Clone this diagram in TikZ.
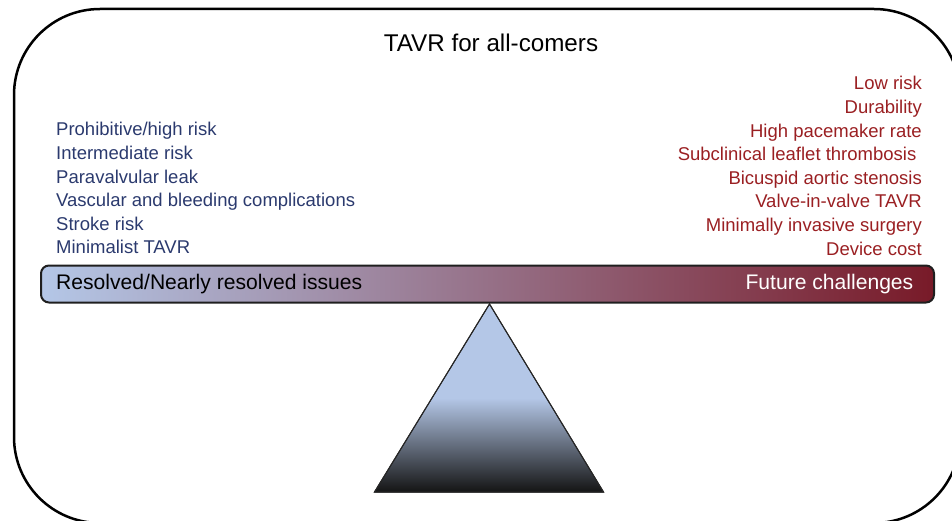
\documentclass[tikz,border=0pt]{standalone}
\usepackage{fontspec}
\setmainfont{Liberation Sans}
\definecolor{lblue}{HTML}{B4C7E7}
\definecolor{dred}{HTML}{781A28}
\definecolor{txtblue}{HTML}{2B3A6E}
\definecolor{txtred}{HTML}{9A1F22}
\definecolor{tribottom}{HTML}{141414}
\pgfdeclareverticalshading{trishade}{100bp}{color(0bp)=(tribottom); color(25bp)=(tribottom); color(50bp)=(lblue); color(75bp)=(lblue); color(100bp)=(lblue)}
\begin{document}
\begin{tikzpicture}[x=1pt,y=-1pt,
  leftitem/.style={anchor=base west,inner sep=0pt,text=txtblue,font=\fontsize{18.5}{21}\selectfont},
  rightitem/.style={anchor=base east,inner sep=0pt,text=txtred,font=\fontsize{18.5}{21}\selectfont},
  bartext/.style={inner sep=0pt,font=\fontsize{21.1}{24}\selectfont},
  frame/.style={draw=black,line width=2.5pt,rounded corners=86pt},
  beam/.style={draw=black!88,line width=2pt,rounded corners=8pt,left color=lblue,right color=dred},
  fulcrum/.style={draw=black!85,line width=1pt,shading=trishade}
]
\useasboundingbox (0,0) rectangle (952,521);
\clip (0,0) rectangle (952,521);
\draw[frame] (14,9) rectangle (960,523);
\node[anchor=base,inner sep=0pt,font=\fontsize{24.2}{27}\selectfont] (title) at (491,52) {TAVR for all-comers};
% left list
\node[leftitem] (l1) at (56,136) {Prohibitive/high risk};
\node[leftitem] (l2) at (56,159.6) {Intermediate risk};
\node[leftitem] (l3) at (56,183.2) {Paravalvular leak};
\node[leftitem] (l4) at (56,206.8) {Vascular and bleeding complications};
\node[leftitem] (l5) at (56,230.4) {Stroke risk};
\node[leftitem] (l6) at (56,254) {Minimalist TAVR};
% right list
\node[rightitem] (r1) at (922,90) {Low risk};
\node[rightitem] (r2) at (922,113.6) {Durability};
\node[rightitem] (r3) at (922,137.2) {High pacemaker rate};
\node[rightitem] (r4) at (916.5,160.8) {Subclinical leaflet thrombosis};
\node[rightitem] (r5) at (922,184.4) {Bicuspid aortic stenosis};
\node[rightitem] (r6) at (922,208) {Valve-in-valve TAVR};
\node[rightitem] (r7) at (922,231.6) {Minimally invasive surgery};
\node[rightitem] (r8) at (922,255.2) {Device cost};
% fulcrum
\shade[fulcrum] (489.5,304) -- (603.5,492) -- (374.5,492) -- cycle;
\draw[draw=black!85,line width=1pt] (489.5,304) -- (603.5,492) -- (374.5,492) -- cycle;
% beam
\path[beam] (41,265.5) rectangle (934,302.5);
\node[bartext,anchor=base west,text=black] (res) at (56,289.5) {Resolved/Nearly resolved issues};
\node[bartext,anchor=base east,text=white] (fut) at (913.5,289.5) {Future challenges};
\end{tikzpicture}
\end{document}
